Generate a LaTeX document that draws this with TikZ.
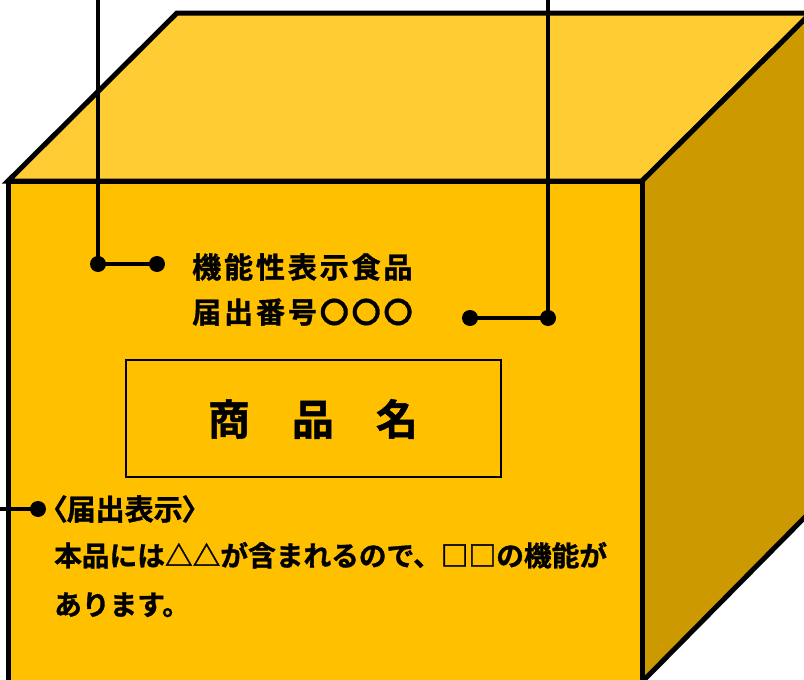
\documentclass[tikz,border=0pt]{standalone}
\usepackage{fontspec}
\newfontfamily\jp{Noto Sans CJK JP}[BoldFont={Noto Sans CJK JP Bold},BoldFeatures={FakeBold=1.2}]
\definecolor{frontcol}{HTML}{FFC000}
\definecolor{topcol}{HTML}{FFCC33}
\definecolor{sidecol}{HTML}{CC9900}
\begin{document}
\begin{tikzpicture}[x=1pt,y=-1pt,
  face/.style={draw=black,line width=5pt,line join=miter},
  lead/.style={draw=black,line width=4pt},
  dot/.style={circle,fill=black,inner sep=0pt,minimum size=16pt},
  label/.style={inner sep=0pt,anchor=base west},
  headfont/.style={font=\jp\bfseries\fontsize{29}{29}\selectfont\addfontfeature{LetterSpace=10}},
  bodyfont/.style={font=\jp\bfseries\fontsize{27.7}{27.7}\selectfont},
]
\clip (0,0) rectangle (804,680);
\useasboundingbox (0,0) rectangle (804,680);

% carton faces
\path[face,fill=topcol] (8,181) -- (177,13) -- (811,13) -- (642,181) -- cycle;
\path[face,fill=sidecol] (642,181) -- (811,13) -- (811,511) -- (642,682) -- cycle;
\path[face,fill=frontcol] (8,181) rectangle (642,682);

% label texts
\node[label,headfont] (kinou) at (192,278) {機能性表示食品};
\node[label,headfont] (bangou) at (192,323) {届出番号〇〇〇};

\node[draw=black,line width=2pt,minimum width=375pt,minimum height=117pt,inner sep=0pt] (namebox) at (313.5,418.5) {};
\node[inner sep=0pt,anchor=base,font=\jp\bfseries\fontsize{42}{42}\selectfont] (shohin) at (313,435) {商　品　名};

\node[label,bodyfont,font=\jp\bfseries\fontsize{29}{29}\selectfont\addfontfeature{RawFeature=+palt}] (todoke) at (52,520) {〈届出表示〉};
\node[label,bodyfont] (body1) at (54,566) {本品には△△が含まれるので、□□の機能が};
\node[label,bodyfont] (body2) at (54,615) {あります。};

% leader lines with dots
\coordinate (top1) at (98,-5);
\coordinate (top2) at (548,-5);
\coordinate (left3) at (-5,509);
\node[dot] (d1a) at (98,264) {};
\node[dot] (d1b) at (157,264) {};
\node[dot] (d2a) at (548,318) {};
\node[dot] (d2b) at (470,318) {};
\node[dot] (d3) at (38,509) {};

\draw[lead] (top1) -- (d1a.center) -- (d1b.center);
\draw[lead] (top2) -- (d2a.center) -- (d2b.center);
\draw[lead] (left3) -- (d3.center);
\end{tikzpicture}
\end{document}
